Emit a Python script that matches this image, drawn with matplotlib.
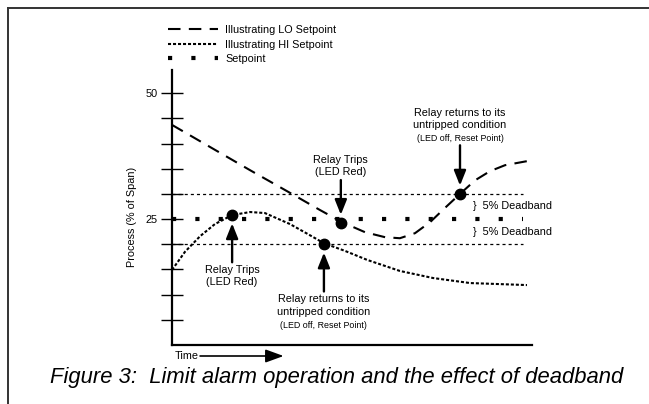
import matplotlib
matplotlib.use('Agg')
import matplotlib.pyplot as plt
from matplotlib import font_manager
from matplotlib.lines import Line2D

names = {f.name for f in font_manager.fontManager.ttflist}
narrow = 'Liberation Sans Narrow' if 'Liberation Sans Narrow' in names else 'Liberation Sans'
plt.rcParams['font.family'] = [narrow, 'DejaVu Sans']
plt.rcParams['lines.scale_dashes'] = False
fs = 9 if narrow.endswith('Narrow') else 7.8

# data (time 0-100, process % of span)
time_lo = [0, 10.6, 21.7, 32.8, 41.1, 47.2, 53.6, 59.2, 63.3, 67.5, 71.7, 75.8, 80, 84.2, 88.3, 92.5, 98.6]
proc_lo = [43.7, 39.3, 34.7, 30.2, 26.8, 24.4, 22.4, 21.4, 21.2, 22.2, 24.4, 27.2, 30.0, 32.7, 34.5, 35.7, 36.5]
time_hi = [0, 3.6, 7.8, 11.9, 16.7, 21.7, 25.8, 32.8, 38.3, 42.2, 48, 54.2, 63.3, 72.5, 82.8, 98.6]
proc_hi = [14.9, 18.5, 21.6, 24.0, 25.8, 26.4, 26.2, 24.0, 21.8, 20.2, 18.7, 16.9, 14.7, 13.3, 12.3, 11.9]
setpoint = 25
deadband_levels = [20, 30]
line_end = 97.5

event_t = [16.7, 42.2, 46.9, 80.0]
event_v = [25.8, 20.0, 24.2, 30.0]
event_side = ['below', 'below', 'above', 'above']
event_main = ['Relay Trips\n(LED Red)', 'Relay returns to its\nuntripped condition',
              'Relay Trips\n(LED Red)', 'Relay returns to its\nuntripped condition']
event_small = ['', '(LED off, Reset Point)', '', '(LED off, Reset Point)']

ytick_vals = [5, 10, 15, 20, 25, 30, 35, 40, 45, 50]
ytick_labels = ['', '', '', '', '25', '', '', '', '', '50']

fig = plt.figure(figsize=(6.49, 4.04), dpi=100)
ax = fig.add_axes([172 / 649, 59 / 404, 360 / 649, 275 / 404])
ax.set_xlim(0, 100)
ax.set_ylim(0, 54.6)

lo, = ax.plot(time_lo, proc_lo, color='black', lw=1.5, dashes=(9, 6), label='Illustrating LO Setpoint')
hi, = ax.plot(time_hi, proc_hi, color='black', lw=1.5, dashes=(2.2, 1.4), label='Illustrating HI Setpoint')
sp, = ax.plot([0, line_end], [setpoint, setpoint], color='black', lw=3, dashes=(3, 13.8),
              solid_capstyle='butt', dash_capstyle='butt', label='Setpoint')
for lvl in deadband_levels:
    ax.plot([0, line_end], [lvl, lvl], color='black', lw=0.9, dashes=(2.2, 2.2))

ax.plot(event_t, event_v, 'o', color='black', ms=7.5)

arrow = dict(arrowstyle='-|>,head_length=0.45,head_width=0.18', color='black',
             lw=1.7, mutation_scale=20, shrinkA=0, shrinkB=6)
for t, v, side, main, small in zip(event_t, event_v, event_side, event_main, event_small):
    if side == 'below':
        ax.annotate('', xy=(t, v), xytext=(0, -34), textcoords='offset points', arrowprops=arrow)
        ax.annotate(main, xy=(t, v), xytext=(0, -36), textcoords='offset points',
                    ha='center', va='top', fontsize=fs, linespacing=1.3)
        if small:
            ax.annotate(small, xy=(t, v), xytext=(0, -55), textcoords='offset points',
                        ha='center', va='top', fontsize=fs - 1.4)
    else:
        if small:
            ax.annotate('', xy=(t, v), xytext=(0, 35), textcoords='offset points', arrowprops=arrow)
            ax.annotate(small, xy=(t, v), xytext=(0, 37), textcoords='offset points',
                        ha='center', va='bottom', fontsize=fs - 1.4)
            ax.annotate(main, xy=(t, v), xytext=(0, 46), textcoords='offset points',
                        ha='center', va='bottom', fontsize=fs, linespacing=1.3)
        else:
            ax.annotate('', xy=(t, v), xytext=(0, 31), textcoords='offset points', arrowprops=arrow)
            ax.annotate(main, xy=(t, v), xytext=(0, 33), textcoords='offset points',
                        ha='center', va='bottom', fontsize=fs, linespacing=1.3)

for lvl in [(setpoint + deadband_levels[1]) / 2, (setpoint + deadband_levels[0]) / 2]:
    ax.text(83.5, lvl, '}  5% Deadband', fontsize=fs, va='center', ha='left')

# axes styling
for s in ['top', 'right']:
    ax.spines[s].set_visible(False)
for s in ['left', 'bottom']:
    ax.spines[s].set_linewidth(1.6)
ax.set_xticks([])
ax.set_yticks(ytick_vals)
ax.set_yticklabels(ytick_labels, fontsize=fs)
ax.tick_params(axis='y', direction='inout', length=16, width=1.0, pad=2)

ax.text(-0.11, 0.465, 'Process (% of Span)', rotation=90, transform=ax.transAxes,
        ha='center', va='center', fontsize=fs)
ax.text(0.008, -0.04, 'Time', transform=ax.transAxes, ha='left', va='center', fontsize=fs)
ax.annotate('', xy=(0.31, -0.04), xytext=(0.078, -0.04), xycoords='axes fraction',
            arrowprops=dict(arrowstyle='-|>,head_length=0.55,head_width=0.2', color='black',
                            lw=1.2, mutation_scale=20, shrinkA=0, shrinkB=0))

fig.legend(handles=[lo, hi, sp], loc='upper left', bbox_to_anchor=(168 / 649, 1 - 25 / 404),
           frameon=False, fontsize=fs, handlelength=4.6, handletextpad=0.7,
           labelspacing=0.42, borderpad=0, borderaxespad=0)

fig.text(337 / 649, 1 - 378 / 404, 'Figure 3:  Limit alarm operation and the effect of deadband',
         ha='center', va='center', fontsize=15.8, style='italic', family='Liberation Sans')

fig.add_artist(Line2D([8 / 649, 8 / 649], [0, 1 - 8 / 404], transform=fig.transFigure, color='#333333', lw=1.4))
fig.add_artist(Line2D([8 / 649, 1], [1 - 8 / 404, 1 - 8 / 404], transform=fig.transFigure, color='#333333', lw=1.4))

fig.savefig('out.png', dpi=100)
